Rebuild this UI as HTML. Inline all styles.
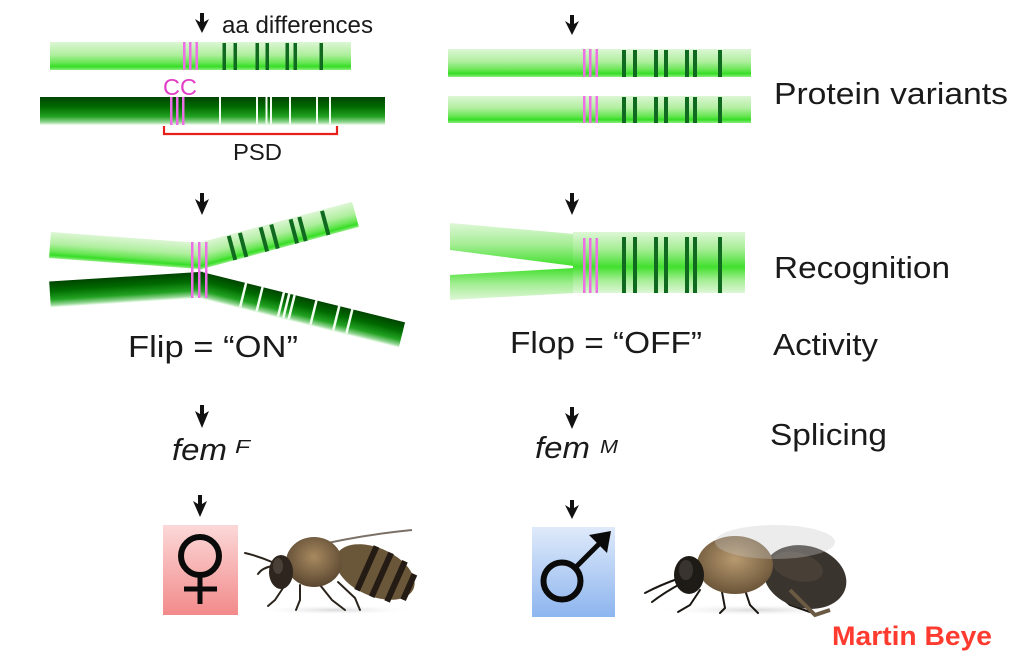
<!DOCTYPE html>
<html>
<head>
<meta charset="utf-8">
<style>
html,body{margin:0;padding:0;background:#fff;}
svg{display:block;}
text{font-family:"Liberation Sans",Arial,sans-serif;fill:#1a1a1a;}
</style>
</head>
<body>
<svg width="1024" height="661" viewBox="0 0 1024 661" xmlns="http://www.w3.org/2000/svg">
<defs>
  <linearGradient id="lightV" x1="0" y1="0" x2="0" y2="1">
    <stop offset="0" stop-color="#dcf6d4"/>
    <stop offset="0.45" stop-color="#b0ef9f"/>
    <stop offset="0.75" stop-color="#66e652"/>
    <stop offset="0.88" stop-color="#36dd26"/>
    <stop offset="1" stop-color="#8eed7e"/>
  </linearGradient>
  <linearGradient id="darkV" x1="0" y1="0" x2="0" y2="1">
    <stop offset="0" stop-color="#004400"/>
    <stop offset="0.35" stop-color="#006a00"/>
    <stop offset="0.7" stop-color="#22a222"/>
    <stop offset="0.9" stop-color="#94d694"/>
    <stop offset="1" stop-color="#f2fff2"/>
  </linearGradient>
  <linearGradient id="topHalf" x1="0" y1="0" x2="0" y2="1">
    <stop offset="0" stop-color="#def7d6"/>
    <stop offset="0.5" stop-color="#a4ed94"/>
    <stop offset="1" stop-color="#42e02e"/>
  </linearGradient>
  <linearGradient id="botHalf" x1="0" y1="0" x2="0" y2="1">
    <stop offset="0" stop-color="#42e02e"/>
    <stop offset="0.5" stop-color="#a4ed94"/>
    <stop offset="1" stop-color="#def7d6"/>
  </linearGradient>
  <linearGradient id="pinkBox" x1="0" y1="0" x2="0" y2="1">
    <stop offset="0" stop-color="#fcd8d8"/>
    <stop offset="1" stop-color="#f28a8a"/>
  </linearGradient>
  <linearGradient id="blueBox" x1="0" y1="0" x2="0" y2="1">
    <stop offset="0" stop-color="#dfeafa"/>
    <stop offset="1" stop-color="#8db5ef"/>
  </linearGradient>
  <radialGradient id="fuzz" cx="0.5" cy="0.4" r="0.6">
    <stop offset="0" stop-color="#a88a60"/>
    <stop offset="1" stop-color="#5a4630"/>
  </radialGradient>
  <radialGradient id="fuzz2" cx="0.5" cy="0.4" r="0.6">
    <stop offset="0" stop-color="#b89a70"/>
    <stop offset="1" stop-color="#6a5438"/>
  </radialGradient>
  <radialGradient id="shadow" cx="0.5" cy="0.5" r="0.5">
    <stop offset="0" stop-color="#d8d8d8"/>
    <stop offset="1" stop-color="#ffffff" stop-opacity="0"/>
  </radialGradient>
</defs>

<!-- ===== Arrows ===== -->
<g fill="#111">
  <polygon points="200,13 204,13 204,22 209,19 202,33 195,19 200,22"/>
  <polygon points="570,15 574,15 574,24 579,21 572,35 565,21 570,24"/>
  <polygon points="200,193 204,193 204,202 209,199 202,215 195,199 200,202"/>
  <polygon points="570,193 574,193 574,202 579,199 572,215 565,199 570,202"/>
  <polygon points="200,405 204,405 204,414 209,411 202,428 195,411 200,414"/>
  <polygon points="570,407 574,407 574,416 579,413 572,429 565,413 570,416"/>
  <polygon points="198,495 202,495 202,504 207,501 200,517 193,501 198,504"/>
  <polygon points="570,500 574,500 574,508 579,505 572,519 565,505 570,508"/>
</g>

<!-- ===== Top-left: protein variant bars ===== -->
<text x="222" y="33" font-size="24" textLength="151" lengthAdjust="spacingAndGlyphs">aa differences</text>
<rect x="50" y="42" width="301" height="28" fill="url(#lightV)"/>
<g fill="#ee6ee6">
  <rect x="183" y="42" width="2.5" height="28"/>
  <rect x="189" y="42" width="2.5" height="28"/>
  <rect x="195.5" y="42" width="2.5" height="28"/>
</g>
<g fill="#0f6a1f">
  <rect x="222.5" y="43" width="3.5" height="27"/>
  <rect x="233.5" y="43" width="3.5" height="27"/>
  <rect x="255.5" y="43" width="3.5" height="27"/>
  <rect x="265.5" y="43" width="3.5" height="27"/>
  <rect x="285.5" y="43" width="3.5" height="27"/>
  <rect x="293.5" y="43" width="3.5" height="27"/>
  <rect x="319.5" y="43" width="3.5" height="27"/>
</g>
<text x="163" y="95" font-size="23" style="fill:#e33cc6" textLength="34" lengthAdjust="spacingAndGlyphs">CC</text>
<rect x="40" y="97" width="345" height="28" fill="url(#darkV)"/>
<g fill="#ee6ee6">
  <rect x="170" y="97" width="2.5" height="28"/>
  <rect x="176" y="97" width="2.5" height="28"/>
  <rect x="182" y="97" width="2.5" height="28"/>
</g>
<g fill="#f2fff0">
  <rect x="219" y="97" width="2" height="27"/>
  <rect x="256" y="97" width="2" height="27"/>
  <rect x="265.5" y="97" width="2" height="27"/>
  <rect x="270" y="97" width="2" height="27"/>
  <rect x="289" y="97" width="2" height="27"/>
  <rect x="316" y="97" width="2" height="27"/>
  <rect x="329" y="97" width="2" height="27"/>
</g>
<path d="M164,126 L164,134 L337,134 L337,126" fill="none" stroke="#e8201c" stroke-width="2.2"/>
<text x="233" y="160" font-size="23" textLength="49" lengthAdjust="spacingAndGlyphs">PSD</text>

<!-- ===== Top-right: protein variant bars ===== -->
<rect x="448" y="49" width="303" height="28" fill="url(#lightV)"/>
<rect x="448" y="96" width="303" height="27" fill="url(#lightV)"/>
<g fill="#ee6ee6">
  <rect x="583" y="49" width="2.5" height="28"/>
  <rect x="589" y="49" width="2.5" height="28"/>
  <rect x="595.5" y="49" width="2.5" height="28"/>
  <rect x="583" y="96" width="2.5" height="27"/>
  <rect x="589" y="96" width="2.5" height="27"/>
  <rect x="595.5" y="96" width="2.5" height="27"/>
</g>
<g fill="#0f6a1f">
  <rect x="622" y="50" width="4" height="27"/>
  <rect x="633" y="50" width="4" height="27"/>
  <rect x="654" y="50" width="4" height="27"/>
  <rect x="664" y="50" width="4" height="27"/>
  <rect x="685" y="50" width="4" height="27"/>
  <rect x="693" y="50" width="4" height="27"/>
  <rect x="718" y="50" width="4" height="27"/>
  <rect x="622" y="97" width="4" height="26"/>
  <rect x="633" y="97" width="4" height="26"/>
  <rect x="654" y="97" width="4" height="26"/>
  <rect x="664" y="97" width="4" height="26"/>
  <rect x="685" y="97" width="4" height="26"/>
  <rect x="693" y="97" width="4" height="26"/>
  <rect x="718" y="97" width="4" height="26"/>
</g>
<text x="774" y="104" font-size="31" textLength="234" lengthAdjust="spacingAndGlyphs">Protein variants</text>

<!-- ===== Left recognition (Flip) ===== -->
<g transform="translate(50,294.5) rotate(-3.62)">
  <rect x="0" y="-13" width="154" height="26" fill="url(#darkV)"/>
</g>
<g transform="translate(200,285) rotate(13.9)">
  <rect x="-4" y="-13" width="212" height="26" fill="url(#darkV)"/>
  <g fill="#f2fff0">
    <rect x="43" y="-13" width="2.5" height="25"/>
    <rect x="60" y="-13" width="2.5" height="25"/>
    <rect x="82" y="-13" width="2.5" height="25"/>
    <rect x="87.5" y="-13" width="2.5" height="25"/>
    <rect x="93" y="-13" width="2.5" height="25"/>
    <rect x="115.5" y="-13" width="2.5" height="25"/>
    <rect x="139" y="-13" width="2.5" height="25"/>
    <rect x="152.5" y="-13" width="2.5" height="25"/>
  </g>
</g>
<g transform="translate(50,245) rotate(4.19)">
  <rect x="0" y="-13" width="154" height="26" fill="url(#lightV)"/>
</g>
<g transform="translate(200,256) rotate(-15)">
  <rect x="-4" y="-13" width="165" height="26" fill="url(#lightV)"/>
  <g fill="#0f6a1f">
    <rect x="31" y="-12" width="4" height="25"/>
    <rect x="42.5" y="-12" width="4" height="25"/>
    <rect x="64" y="-12" width="4" height="25"/>
    <rect x="75" y="-12" width="4" height="25"/>
    <rect x="95" y="-12" width="4" height="25"/>
    <rect x="104" y="-12" width="4" height="25"/>
    <rect x="127.5" y="-12" width="4" height="25"/>
  </g>
</g>
<g fill="#ee6ee6">
  <rect x="191" y="242" width="2.5" height="56"/>
  <rect x="198" y="242" width="2.5" height="56"/>
  <rect x="205" y="242" width="2.5" height="56"/>
</g>
<text x="128" y="357" font-size="31" textLength="170" lengthAdjust="spacingAndGlyphs">Flip = “ON”</text>

<!-- ===== Right recognition (Flop) ===== -->
<polygon points="450,223 574,234 574,266 450,250" fill="url(#topHalf)"/>
<polygon points="450,275 574,268 574,293 450,300" fill="url(#botHalf)"/>
<rect x="573" y="232" width="172" height="35" fill="url(#topHalf)"/>
<rect x="573" y="267" width="172" height="26" fill="url(#botHalf)"/>
<g fill="#ee6ee6">
  <rect x="583" y="238" width="2.5" height="55"/>
  <rect x="589" y="238" width="2.5" height="55"/>
  <rect x="595.5" y="238" width="2.5" height="55"/>
</g>
<g fill="#0f6a1f">
  <rect x="622" y="237" width="4" height="56"/>
  <rect x="633" y="237" width="4" height="56"/>
  <rect x="654" y="237" width="4" height="56"/>
  <rect x="664" y="237" width="4" height="56"/>
  <rect x="685" y="237" width="4" height="56"/>
  <rect x="693" y="237" width="4" height="56"/>
  <rect x="718" y="237" width="4" height="56"/>
</g>
<text x="774" y="278" font-size="31" textLength="176" lengthAdjust="spacingAndGlyphs">Recognition</text>
<text x="510" y="353" font-size="31" textLength="192" lengthAdjust="spacingAndGlyphs">Flop = “OFF”</text>
<text x="773" y="355" font-size="31" textLength="105" lengthAdjust="spacingAndGlyphs">Activity</text>

<!-- ===== fem ===== -->
<text x="172" y="460" font-size="31" font-style="italic" textLength="55" lengthAdjust="spacingAndGlyphs">fem</text>
<text x="235" y="453" font-size="18" font-style="italic" textLength="15" lengthAdjust="spacingAndGlyphs">F</text>
<text x="535" y="458" font-size="31" font-style="italic" textLength="55" lengthAdjust="spacingAndGlyphs">fem</text>
<text x="600" y="453" font-size="18" font-style="italic" textLength="18" lengthAdjust="spacingAndGlyphs">M</text>
<text x="770" y="445" font-size="31" textLength="117" lengthAdjust="spacingAndGlyphs">Splicing</text>

<!-- ===== Female box ===== -->
<rect x="163" y="525" width="75" height="90" fill="url(#pinkBox)"/>
<circle cx="200" cy="556" r="19" fill="none" stroke="#0a0a0a" stroke-width="6"/>
<line x1="200" y1="577" x2="200" y2="604" stroke="#0a0a0a" stroke-width="5"/>
<line x1="184" y1="589" x2="217" y2="589" stroke="#0a0a0a" stroke-width="5"/>

<!-- ===== Male box ===== -->
<rect x="532" y="527" width="83" height="90" fill="url(#blueBox)"/>
<circle cx="562" cy="581" r="18.5" fill="none" stroke="#0a0a0a" stroke-width="6"/>
<line x1="575" y1="568" x2="600" y2="543" stroke="#0a0a0a" stroke-width="5"/>
<polygon points="611,531 607,553 589,535" fill="#0a0a0a"/>

<!-- ===== Worker bee ===== -->
<ellipse cx="335" cy="610" rx="80" ry="5" fill="url(#shadow)"/>
<g stroke="#2a241c" stroke-width="2" fill="none" stroke-linecap="round">
  <path d="M272,562 Q258,556 245,553"/>
  <path d="M272,566 Q262,568 258,574"/>
  <path d="M285,585 L275,600 L268,606"/>
  <path d="M300,585 L300,600 L296,610"/>
  <path d="M320,585 L332,600 L345,610"/>
  <path d="M338,582 L355,598 L360,610"/>
</g>
<path d="M305,548 Q360,535 412,530" stroke="#7a7065" stroke-width="2" fill="none"/>
<g transform="translate(375,572) rotate(24)">
  <ellipse cx="0" cy="0" rx="42" ry="24" fill="#6a5638"/>
  <rect x="-12" y="-24" width="6" height="48" fill="#241c14"/>
  <rect x="4" y="-24" width="6" height="48" fill="#241c14"/>
  <rect x="20" y="-22" width="6" height="44" fill="#241c14"/>
  <rect x="34" y="-14" width="6" height="28" fill="#241c14"/>
</g>
<ellipse cx="314" cy="562" rx="28" ry="25" fill="url(#fuzz)"/>
<ellipse cx="281" cy="572" rx="12" ry="17" fill="#2e261e"/>
<ellipse cx="278" cy="566" rx="5" ry="8" fill="#4a4038"/>

<!-- ===== Drone bee ===== -->
<ellipse cx="755" cy="610" rx="100" ry="6" fill="url(#shadow)"/>
<g stroke="#1a1612" stroke-width="2" fill="none" stroke-linecap="round">
  <path d="M680,578 Q660,585 645,593"/>
  <path d="M682,583 Q665,592 652,602"/>
  <path d="M700,590 L690,605 L678,612"/>
  <path d="M722,592 L725,608 L720,613"/>
  <path d="M745,590 L750,605 L758,613"/>
  <path d="M770,588 L790,605 L810,612"/>
</g>
<g transform="translate(805,577) rotate(15)">
  <ellipse cx="0" cy="0" rx="42" ry="31" fill="#3a342e"/>
  <ellipse cx="-10" cy="-8" rx="26" ry="14" fill="#4e463c" opacity="0.7"/>
</g>
<ellipse cx="735" cy="565" rx="38" ry="29" fill="url(#fuzz2)"/>
<ellipse cx="775" cy="542" rx="60" ry="17" fill="#c8c8c8" opacity="0.35"/>
<ellipse cx="689" cy="575" rx="15" ry="19" fill="#1e1a16"/>
<ellipse cx="686" cy="570" rx="7" ry="10" fill="#3a3430"/>
<path d="M790,590 L815,615 L830,610" stroke="#6a5a44" stroke-width="4" fill="none"/>

<!-- ===== Credit ===== -->
<text x="832" y="645" font-size="27" font-weight="bold" style="fill:#ff3b30" textLength="160" lengthAdjust="spacingAndGlyphs">Martin Beye</text>
</svg>
</body>
</html>
